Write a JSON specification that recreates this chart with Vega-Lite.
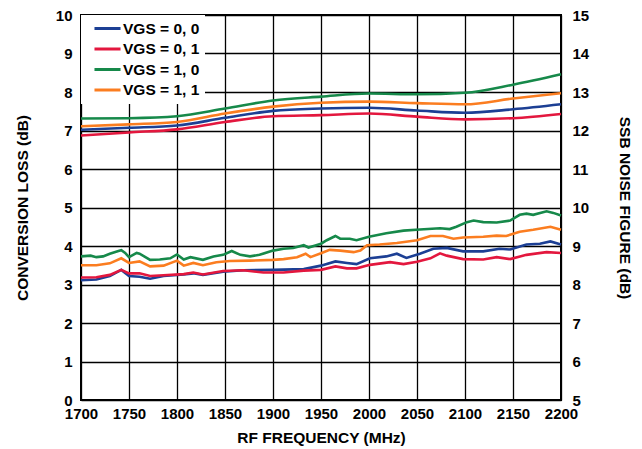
{
  "$schema": "https://vega.github.io/schema/vega-lite/v6.json",
  "width": 480,
  "height": 385,
  "autosize": {"type": "none"},
  "padding": {"left": 81, "top": 15, "right": 81, "bottom": 49},
  "background": "white",
  "config": {
    "font": "Liberation Sans",
    "view": {"stroke": "black", "strokeWidth": 2},
    "axis": {
      "labelFont": "Liberation Sans", "labelFontWeight": "bold", "labelFontSize": 15, "labelColor": "black",
      "titleFont": "Liberation Sans", "titleFontWeight": "bold", "titleFontSize": 15.5, "titleColor": "black",
      "ticks": false, "domain": false, "gridColor": "black", "gridOpacity": 1, "gridWidth": 1.3, "labelFlush": false
    }
  },
  "datasets": {
    "gain": [
      {"f": 1700, "g": 7.02, "s": "VGS = 0, 0"}, {"f": 1750, "g": 7.07, "s": "VGS = 0, 0"}, {"f": 1800, "g": 7.13, "s": "VGS = 0, 0"}, {"f": 1850, "g": 7.33, "s": "VGS = 0, 0"}, {"f": 1900, "g": 7.51, "s": "VGS = 0, 0"}, {"f": 1950, "g": 7.57, "s": "VGS = 0, 0"}, {"f": 2000, "g": 7.59, "s": "VGS = 0, 0"}, {"f": 2050, "g": 7.52, "s": "VGS = 0, 0"}, {"f": 2100, "g": 7.46, "s": "VGS = 0, 0"}, {"f": 2150, "g": 7.55, "s": "VGS = 0, 0"}, {"f": 2200, "g": 7.68, "s": "VGS = 0, 0"},
      {"f": 1700, "g": 6.87, "s": "VGS = 0, 1"}, {"f": 1750, "g": 6.95, "s": "VGS = 0, 1"}, {"f": 1800, "g": 7.03, "s": "VGS = 0, 1"}, {"f": 1850, "g": 7.22, "s": "VGS = 0, 1"}, {"f": 1900, "g": 7.37, "s": "VGS = 0, 1"}, {"f": 1950, "g": 7.40, "s": "VGS = 0, 1"}, {"f": 2000, "g": 7.44, "s": "VGS = 0, 1"}, {"f": 2050, "g": 7.36, "s": "VGS = 0, 1"}, {"f": 2100, "g": 7.29, "s": "VGS = 0, 1"}, {"f": 2150, "g": 7.32, "s": "VGS = 0, 1"}, {"f": 2200, "g": 7.43, "s": "VGS = 0, 1"},
      {"f": 1700, "g": 7.31, "s": "VGS = 1, 0"}, {"f": 1750, "g": 7.32, "s": "VGS = 1, 0"}, {"f": 1800, "g": 7.37, "s": "VGS = 1, 0"}, {"f": 1850, "g": 7.57, "s": "VGS = 1, 0"}, {"f": 1900, "g": 7.78, "s": "VGS = 1, 0"}, {"f": 1950, "g": 7.88, "s": "VGS = 1, 0"}, {"f": 2000, "g": 7.96, "s": "VGS = 1, 0"}, {"f": 2050, "g": 7.94, "s": "VGS = 1, 0"}, {"f": 2100, "g": 7.98, "s": "VGS = 1, 0"}, {"f": 2150, "g": 8.19, "s": "VGS = 1, 0"}, {"f": 2200, "g": 8.46, "s": "VGS = 1, 0"},
      {"f": 1700, "g": 7.11, "s": "VGS = 1, 1"}, {"f": 1750, "g": 7.16, "s": "VGS = 1, 1"}, {"f": 1800, "g": 7.22, "s": "VGS = 1, 1"}, {"f": 1850, "g": 7.44, "s": "VGS = 1, 1"}, {"f": 1900, "g": 7.62, "s": "VGS = 1, 1"}, {"f": 1950, "g": 7.72, "s": "VGS = 1, 1"}, {"f": 2000, "g": 7.75, "s": "VGS = 1, 1"}, {"f": 2050, "g": 7.71, "s": "VGS = 1, 1"}, {"f": 2100, "g": 7.68, "s": "VGS = 1, 1"}, {"f": 2150, "g": 7.83, "s": "VGS = 1, 1"}, {"f": 2200, "g": 7.97, "s": "VGS = 1, 1"}
    ],
    "nf": [
      {"f": 1700, "n": 8.11, "s": "VGS = 0, 0"}, {"f": 1716, "n": 8.13, "s": "VGS = 0, 0"}, {"f": 1730, "n": 8.22, "s": "VGS = 0, 0"}, {"f": 1742, "n": 8.38, "s": "VGS = 0, 0"}, {"f": 1750, "n": 8.22, "s": "VGS = 0, 0"}, {"f": 1761, "n": 8.20, "s": "VGS = 0, 0"}, {"f": 1772, "n": 8.15, "s": "VGS = 0, 0"}, {"f": 1786, "n": 8.22, "s": "VGS = 0, 0"}, {"f": 1807, "n": 8.26, "s": "VGS = 0, 0"}, {"f": 1817, "n": 8.29, "s": "VGS = 0, 0"}, {"f": 1827, "n": 8.25, "s": "VGS = 0, 0"}, {"f": 1848, "n": 8.33, "s": "VGS = 0, 0"}, {"f": 1869, "n": 8.37, "s": "VGS = 0, 0"}, {"f": 1900, "n": 8.38, "s": "VGS = 0, 0"}, {"f": 1932, "n": 8.40, "s": "VGS = 0, 0"}, {"f": 1950, "n": 8.49, "s": "VGS = 0, 0"}, {"f": 1965, "n": 8.60, "s": "VGS = 0, 0"}, {"f": 1977, "n": 8.56, "s": "VGS = 0, 0"}, {"f": 1987, "n": 8.53, "s": "VGS = 0, 0"}, {"f": 2001, "n": 8.68, "s": "VGS = 0, 0"}, {"f": 2018, "n": 8.73, "s": "VGS = 0, 0"}, {"f": 2029, "n": 8.80, "s": "VGS = 0, 0"}, {"f": 2039, "n": 8.69, "s": "VGS = 0, 0"}, {"f": 2053, "n": 8.80, "s": "VGS = 0, 0"}, {"f": 2067, "n": 8.93, "s": "VGS = 0, 0"}, {"f": 2081, "n": 8.95, "s": "VGS = 0, 0"}, {"f": 2098, "n": 8.86, "s": "VGS = 0, 0"}, {"f": 2119, "n": 8.86, "s": "VGS = 0, 0"}, {"f": 2136, "n": 8.93, "s": "VGS = 0, 0"}, {"f": 2147, "n": 8.91, "s": "VGS = 0, 0"}, {"f": 2164, "n": 9.04, "s": "VGS = 0, 0"}, {"f": 2178, "n": 9.06, "s": "VGS = 0, 0"}, {"f": 2189, "n": 9.12, "s": "VGS = 0, 0"}, {"f": 2200, "n": 9.04, "s": "VGS = 0, 0"},
      {"f": 1700, "n": 8.18, "s": "VGS = 0, 1"}, {"f": 1716, "n": 8.19, "s": "VGS = 0, 1"}, {"f": 1730, "n": 8.25, "s": "VGS = 0, 1"}, {"f": 1742, "n": 8.38, "s": "VGS = 0, 1"}, {"f": 1750, "n": 8.29, "s": "VGS = 0, 1"}, {"f": 1761, "n": 8.29, "s": "VGS = 0, 1"}, {"f": 1772, "n": 8.22, "s": "VGS = 0, 1"}, {"f": 1786, "n": 8.24, "s": "VGS = 0, 1"}, {"f": 1807, "n": 8.27, "s": "VGS = 0, 1"}, {"f": 1817, "n": 8.31, "s": "VGS = 0, 1"}, {"f": 1827, "n": 8.26, "s": "VGS = 0, 1"}, {"f": 1848, "n": 8.35, "s": "VGS = 0, 1"}, {"f": 1869, "n": 8.37, "s": "VGS = 0, 1"}, {"f": 1890, "n": 8.31, "s": "VGS = 0, 1"}, {"f": 1911, "n": 8.31, "s": "VGS = 0, 1"}, {"f": 1932, "n": 8.36, "s": "VGS = 0, 1"}, {"f": 1950, "n": 8.38, "s": "VGS = 0, 1"}, {"f": 1965, "n": 8.47, "s": "VGS = 0, 1"}, {"f": 1977, "n": 8.42, "s": "VGS = 0, 1"}, {"f": 1987, "n": 8.42, "s": "VGS = 0, 1"}, {"f": 2001, "n": 8.51, "s": "VGS = 0, 1"}, {"f": 2022, "n": 8.58, "s": "VGS = 0, 1"}, {"f": 2036, "n": 8.53, "s": "VGS = 0, 1"}, {"f": 2050, "n": 8.59, "s": "VGS = 0, 1"}, {"f": 2064, "n": 8.68, "s": "VGS = 0, 1"}, {"f": 2074, "n": 8.81, "s": "VGS = 0, 1"}, {"f": 2081, "n": 8.75, "s": "VGS = 0, 1"}, {"f": 2098, "n": 8.66, "s": "VGS = 0, 1"}, {"f": 2119, "n": 8.65, "s": "VGS = 0, 1"}, {"f": 2133, "n": 8.71, "s": "VGS = 0, 1"}, {"f": 2147, "n": 8.66, "s": "VGS = 0, 1"}, {"f": 2164, "n": 8.77, "s": "VGS = 0, 1"}, {"f": 2185, "n": 8.84, "s": "VGS = 0, 1"}, {"f": 2200, "n": 8.82, "s": "VGS = 0, 1"},
      {"f": 1700, "n": 8.73, "s": "VGS = 1, 0"}, {"f": 1710, "n": 8.75, "s": "VGS = 1, 0"}, {"f": 1716, "n": 8.71, "s": "VGS = 1, 0"}, {"f": 1723, "n": 8.73, "s": "VGS = 1, 0"}, {"f": 1730, "n": 8.80, "s": "VGS = 1, 0"}, {"f": 1739, "n": 8.87, "s": "VGS = 1, 0"}, {"f": 1742, "n": 8.89, "s": "VGS = 1, 0"}, {"f": 1746, "n": 8.82, "s": "VGS = 1, 0"}, {"f": 1750, "n": 8.71, "s": "VGS = 1, 0"}, {"f": 1758, "n": 8.82, "s": "VGS = 1, 0"}, {"f": 1761, "n": 8.80, "s": "VGS = 1, 0"}, {"f": 1772, "n": 8.64, "s": "VGS = 1, 0"}, {"f": 1782, "n": 8.65, "s": "VGS = 1, 0"}, {"f": 1793, "n": 8.68, "s": "VGS = 1, 0"}, {"f": 1800, "n": 8.78, "s": "VGS = 1, 0"}, {"f": 1807, "n": 8.65, "s": "VGS = 1, 0"}, {"f": 1814, "n": 8.71, "s": "VGS = 1, 0"}, {"f": 1827, "n": 8.64, "s": "VGS = 1, 0"}, {"f": 1838, "n": 8.73, "s": "VGS = 1, 0"}, {"f": 1848, "n": 8.77, "s": "VGS = 1, 0"}, {"f": 1857, "n": 8.87, "s": "VGS = 1, 0"}, {"f": 1866, "n": 8.77, "s": "VGS = 1, 0"}, {"f": 1876, "n": 8.73, "s": "VGS = 1, 0"}, {"f": 1886, "n": 8.77, "s": "VGS = 1, 0"}, {"f": 1900, "n": 8.88, "s": "VGS = 1, 0"}, {"f": 1911, "n": 8.93, "s": "VGS = 1, 0"}, {"f": 1921, "n": 8.95, "s": "VGS = 1, 0"}, {"f": 1932, "n": 9.02, "s": "VGS = 1, 0"}, {"f": 1937, "n": 8.96, "s": "VGS = 1, 0"}, {"f": 1945, "n": 9.02, "s": "VGS = 1, 0"}, {"f": 1950, "n": 9.06, "s": "VGS = 1, 0"}, {"f": 1956, "n": 9.15, "s": "VGS = 1, 0"}, {"f": 1965, "n": 9.26, "s": "VGS = 1, 0"}, {"f": 1970, "n": 9.19, "s": "VGS = 1, 0"}, {"f": 1980, "n": 9.19, "s": "VGS = 1, 0"}, {"f": 1987, "n": 9.15, "s": "VGS = 1, 0"}, {"f": 2000, "n": 9.24, "s": "VGS = 1, 0"}, {"f": 2018, "n": 9.33, "s": "VGS = 1, 0"}, {"f": 2036, "n": 9.40, "s": "VGS = 1, 0"}, {"f": 2053, "n": 9.43, "s": "VGS = 1, 0"}, {"f": 2074, "n": 9.46, "s": "VGS = 1, 0"}, {"f": 2084, "n": 9.44, "s": "VGS = 1, 0"}, {"f": 2091, "n": 9.50, "s": "VGS = 1, 0"}, {"f": 2102, "n": 9.62, "s": "VGS = 1, 0"}, {"f": 2109, "n": 9.66, "s": "VGS = 1, 0"}, {"f": 2119, "n": 9.62, "s": "VGS = 1, 0"}, {"f": 2133, "n": 9.61, "s": "VGS = 1, 0"}, {"f": 2147, "n": 9.66, "s": "VGS = 1, 0"}, {"f": 2157, "n": 9.81, "s": "VGS = 1, 0"}, {"f": 2164, "n": 9.84, "s": "VGS = 1, 0"}, {"f": 2171, "n": 9.81, "s": "VGS = 1, 0"}, {"f": 2185, "n": 9.90, "s": "VGS = 1, 0"}, {"f": 2192, "n": 9.86, "s": "VGS = 1, 0"}, {"f": 2200, "n": 9.79, "s": "VGS = 1, 0"},
      {"f": 1700, "n": 8.50, "s": "VGS = 1, 1"}, {"f": 1716, "n": 8.50, "s": "VGS = 1, 1"}, {"f": 1730, "n": 8.55, "s": "VGS = 1, 1"}, {"f": 1742, "n": 8.68, "s": "VGS = 1, 1"}, {"f": 1750, "n": 8.56, "s": "VGS = 1, 1"}, {"f": 1761, "n": 8.60, "s": "VGS = 1, 1"}, {"f": 1772, "n": 8.47, "s": "VGS = 1, 1"}, {"f": 1786, "n": 8.49, "s": "VGS = 1, 1"}, {"f": 1800, "n": 8.62, "s": "VGS = 1, 1"}, {"f": 1807, "n": 8.49, "s": "VGS = 1, 1"}, {"f": 1817, "n": 8.56, "s": "VGS = 1, 1"}, {"f": 1827, "n": 8.50, "s": "VGS = 1, 1"}, {"f": 1841, "n": 8.58, "s": "VGS = 1, 1"}, {"f": 1855, "n": 8.61, "s": "VGS = 1, 1"}, {"f": 1876, "n": 8.62, "s": "VGS = 1, 1"}, {"f": 1900, "n": 8.64, "s": "VGS = 1, 1"}, {"f": 1911, "n": 8.66, "s": "VGS = 1, 1"}, {"f": 1925, "n": 8.71, "s": "VGS = 1, 1"}, {"f": 1934, "n": 8.80, "s": "VGS = 1, 1"}, {"f": 1939, "n": 8.71, "s": "VGS = 1, 1"}, {"f": 1950, "n": 8.81, "s": "VGS = 1, 1"}, {"f": 1959, "n": 8.90, "s": "VGS = 1, 1"}, {"f": 1970, "n": 8.88, "s": "VGS = 1, 1"}, {"f": 1984, "n": 8.84, "s": "VGS = 1, 1"}, {"f": 1991, "n": 8.88, "s": "VGS = 1, 1"}, {"f": 1998, "n": 9.02, "s": "VGS = 1, 1"}, {"f": 2011, "n": 9.04, "s": "VGS = 1, 1"}, {"f": 2029, "n": 9.08, "s": "VGS = 1, 1"}, {"f": 2050, "n": 9.15, "s": "VGS = 1, 1"}, {"f": 2064, "n": 9.26, "s": "VGS = 1, 1"}, {"f": 2077, "n": 9.26, "s": "VGS = 1, 1"}, {"f": 2088, "n": 9.19, "s": "VGS = 1, 1"}, {"f": 2098, "n": 9.22, "s": "VGS = 1, 1"}, {"f": 2119, "n": 9.24, "s": "VGS = 1, 1"}, {"f": 2133, "n": 9.27, "s": "VGS = 1, 1"}, {"f": 2143, "n": 9.26, "s": "VGS = 1, 1"}, {"f": 2157, "n": 9.37, "s": "VGS = 1, 1"}, {"f": 2171, "n": 9.42, "s": "VGS = 1, 1"}, {"f": 2189, "n": 9.50, "s": "VGS = 1, 1"}, {"f": 2200, "n": 9.42, "s": "VGS = 1, 1"}
    ]
  },
  "layer": [
    {
      "data": {"name": "gain"},
      "mark": {"type": "line", "strokeWidth": 2.6, "interpolate": "monotone"},
      "encoding": {
        "x": {"field": "f", "type": "quantitative", "scale": {"domain": [1700, 2200], "nice": false, "zero": false},
              "axis": {"values": [1700, 1750, 1800, 1850, 1900, 1950, 2000, 2050, 2100, 2150, 2200], "format": "d", "title": "RF FREQUENCY (MHz)", "labelPadding": 6, "titlePadding": 9, "grid": true}},
        "y": {"field": "g", "type": "quantitative", "scale": {"domain": [0, 10], "nice": false},
              "axis": {"values": [0, 1, 2, 3, 4, 5, 6, 7, 8, 9, 10], "title": "CONVERSION LOSS (dB)", "orient": "left", "labelPadding": 9, "titlePadding": 25, "grid": true}},
        "color": {"field": "s", "type": "nominal",
                  "scale": {"domain": ["VGS = 0, 0", "VGS = 0, 1", "VGS = 1, 0", "VGS = 1, 1"], "range": ["#1c3f94", "#e3173e", "#16894a", "#fb7d20"]},
                  "legend": {"title": null, "orient": "none", "legendX": 0, "legendY": 0, "fillColor": "white", "padding": 5,
                             "symbolType": "M-1.86,0H1.86", "symbolSize": 196, "symbolStrokeWidth": 3, "symbolOffset": 13,
                             "labelFont": "Liberation Sans", "labelFontWeight": "bold", "labelFontSize": 15.5, "labelColor": "black", "labelOffset": 7, "rowPadding": 3.5}}
      }
    },
    {
      "mark": {"type": "rect", "color": "white"},
      "encoding": {
        "x": {"datum": 1931, "type": "quantitative"},
        "x2": {"datum": 1982},
        "y": {"datum": 8.1, "type": "quantitative", "scale": {"domain": [0, 10], "nice": false}, "axis": null},
        "y2": {"datum": 8.68}
      }
    },
    {
      "mark": {"type": "rect", "color": "white"},
      "encoding": {
        "x": {"datum": 1925, "type": "quantitative"},
        "x2": {"datum": 2064},
        "y": {"datum": 1.9, "type": "quantitative", "scale": {"domain": [0, 10], "nice": false}, "axis": null},
        "y2": {"datum": 2.55}
      }
    },
    {
      "mark": {"type": "text", "text": "GAIN", "font": "Liberation Sans", "fontWeight": "bold", "fontSize": 15.5, "color": "black"},
      "encoding": {
        "x": {"datum": 1957, "type": "quantitative"},
        "y": {"datum": 8.4, "type": "quantitative", "scale": {"domain": [0, 10], "nice": false}, "axis": null}
      }
    },
    {
      "mark": {"type": "text", "text": "NOISE FIGURE", "font": "Liberation Sans", "fontWeight": "bold", "fontSize": 15.5, "color": "black"},
      "encoding": {
        "x": {"datum": 1995, "type": "quantitative"},
        "y": {"datum": 2.22, "type": "quantitative", "scale": {"domain": [0, 10], "nice": false}, "axis": null}
      }
    },
    {
      "mark": {"type": "text", "text": "08082-043", "font": "Liberation Sans", "fontSize": 9, "color": "#333", "angle": 270, "baseline": "middle", "align": "center", "clip": false},
      "encoding": {
        "x": {"datum": 2272, "type": "quantitative"},
        "y": {"datum": -0.55, "type": "quantitative", "scale": {"domain": [0, 10], "nice": false}, "axis": null}
      }
    },
    {
      "data": {"name": "nf"},
      "mark": {"type": "line", "strokeWidth": 2.6},
      "encoding": {
        "x": {"field": "f", "type": "quantitative"},
        "y": {"field": "n", "type": "quantitative", "scale": {"domain": [5, 15], "nice": false},
              "axis": {"values": [5, 6, 7, 8, 9, 10, 11, 12, 13, 14, 15], "title": "SSB NOISE FIGURE (dB)", "orient": "right", "labelPadding": 11, "titlePadding": 28, "grid": false}},
        "color": {"field": "s", "type": "nominal"}
      }
    }
  ],
  "resolve": {"scale": {"y": "independent"}}
}
